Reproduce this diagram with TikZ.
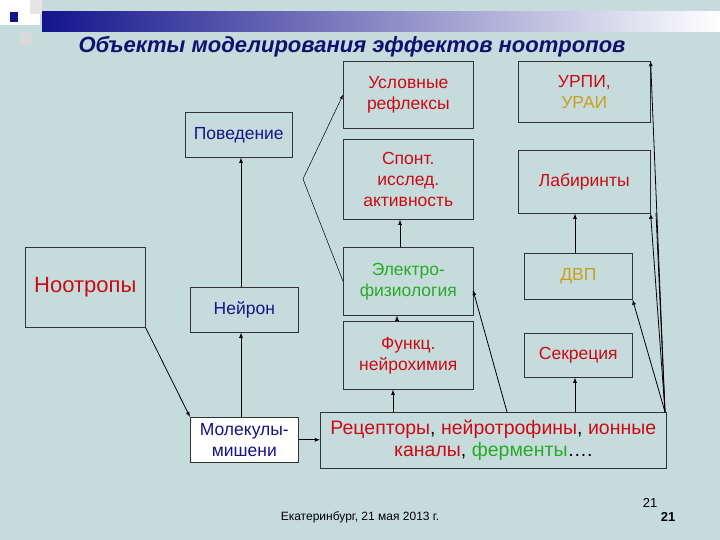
\documentclass[tikz,border=0pt]{standalone}
\usepackage{fontspec}
\setmainfont{Liberation Sans}
\begin{document}
\begin{tikzpicture}[x=1pt,y=-1pt,
  box/.style={draw=black!80,line width=0.6pt,inner sep=0pt,anchor=north west,align=center,font=\fontsize{17.5}{21}\selectfont},
  arr/.style={-latex,line width=0.8pt},
  thin/.style={line width=0.5pt}]
\definecolor{bg}{RGB}{198,220,220}
\definecolor{rd}{RGB}{205,10,20}
\definecolor{nv}{RGB}{20,20,140}
\definecolor{gn}{RGB}{40,170,40}
\definecolor{gd}{RGB}{200,160,30}
\fill[bg] (0,0) rectangle (720,540);
\useasboundingbox (0,0) rectangle (720,540);
\shade[left color=nv,right color=white] (42,12) rectangle (720,32);
\fill[white] (0,0) rectangle (40,25);
\fill[nv] (10,12) rectangle (18,22);
\fill[white!70!gray] (20,32) rectangle (32,45);
\fill[white!80!gray] (30,0) rectangle (42,14);
\node[font=\itshape\bfseries\fontsize{22}{25}\selectfont,text=nv!80!black] (title) at (352,47) {Объекты моделирования эффектов ноотропов};
\node[box,minimum width=130,minimum height=67] (usl) at (343,61) {\color{rd}Условные\\\color{rd}рефлексы};
\node[box,minimum width=132,minimum height=61] (urpi) at (518,61) {\color{rd}УРПИ,\\\color{gd}УРАИ};
\node[box,minimum width=107,minimum height=45] (pov) at (185,112) {\color{nv}Поведение};
\node[box,minimum width=130,minimum height=80] (spont) at (343,139) {\color{rd}Спонт.\\\color{rd}исслед.\\\color{rd}активность};
\node[box,minimum width=132,minimum height=63] (lab) at (518,150) {\color{rd}Лабиринты};
\node[box,minimum width=120,minimum height=80,font=\fontsize{22}{25}\selectfont] (noo) at (25,247) {\color{rd}Ноотропы};
\node[box,minimum width=130,minimum height=68] (el) at (343,247) {\color{gn}Электро-\\\color{gn}физиология};
\node[box,minimum width=108,minimum height=46] (dvp) at (524,253) {\color{gd}ДВП};
\node[box,minimum width=108,minimum height=45] (neu) at (190,287) {\color{nv}Нейрон};
\node[box,minimum width=130,minimum height=68] (fn) at (343,321) {\color{rd}Функц.\\\color{rd}нейрохимия};
\node[box,minimum width=108,minimum height=44] (sec) at (524,333) {\color{rd}Секреция};
\node[box,fill=white,minimum width=108,minimum height=45] (mol) at (190,417) {\color{nv}Молекулы-\\\color{nv}мишени};
\node[box,minimum width=346,minimum height=56,font=\fontsize{19.5}{22}\selectfont] (rec) at (320,412) {\color{rd}Рецепторы\color{black}, \color{rd}нейротрофины\color{black}, \color{rd}ионные\\\color{rd}каналы\color{black}, \color{gn}ферменты\color{black}….};
\coordinate (v) at (303,179);
\coordinate (rr) at (665,412);
\draw[arr] (noo.south east) -- (mol.north west);
\draw[arr] (mol.north -| 241,0) -- (neu.south -| 241,0);
\draw[arr] (neu.north -| 241,0) -- (pov.south -| 241,0);
\draw[arr] (mol.east) -- (rec.west |- mol.east);
\draw[arr,thin] (v) -- (usl.west);
\draw[thin] (v) -- (el.west);
\draw[arr] (el.north -| 400,0) -- (spont.south -| 400,0);
\draw[arr] (fn.north -| 397,0) -- (el.south -| 397,0);
\draw[arr] (rec.north -| 393,0) -- (fn.south -| 393,0);
\draw[arr] (rec.north -| 507,0) -- (473,290);
\draw[arr] (rec.north -| 575,0) -- (sec.south -| 575,0);
\draw[arr] (dvp.north -| 575,0) -- (lab.south -| 575,0);
\draw[arr] (rr) -- (dvp.south east);
\draw[arr] (rr) -- (lab.south east);
\draw[arr] (rr) -- (urpi.north east);
\draw[line width=0.8pt] (rr) -- (656,213);
\node[font=\fontsize{12}{14}\selectfont] (foot) at (360,517) {Екатеринбург, 21 мая 2013 г.};
\node[font=\fontsize{13}{14}\selectfont] (p1) at (650,503) {21};
\node[font=\bfseries\fontsize{13}{14}\selectfont] (p2) at (668,517) {21};
\end{tikzpicture}
\end{document}
